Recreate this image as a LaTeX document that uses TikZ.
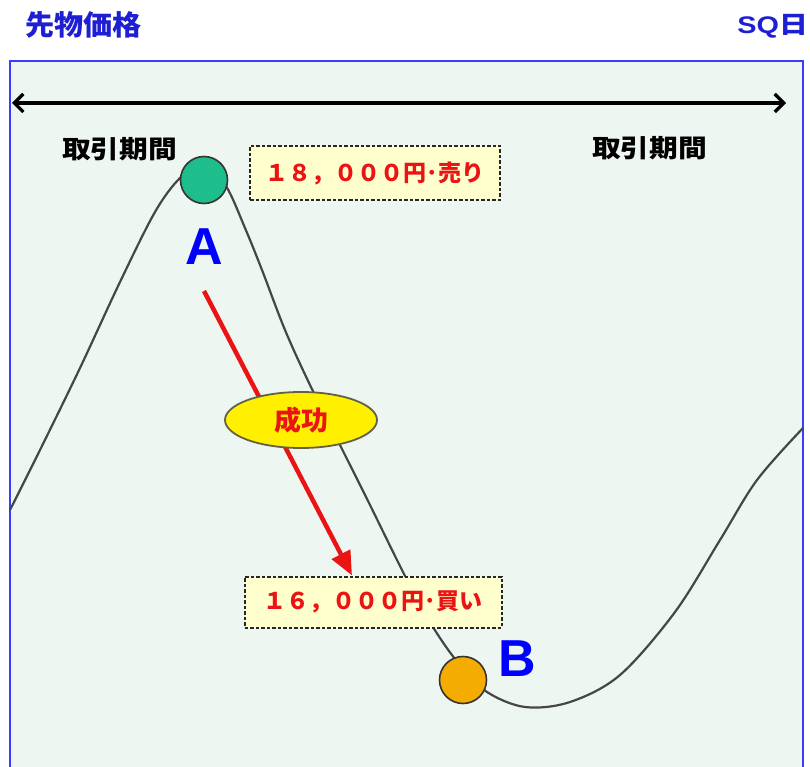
\documentclass[tikz,border=0pt]{standalone}
\usepackage{fontspec}
\usepackage{graphicx}
\usetikzlibrary{arrows.meta,shapes.geometric}
\newfontfamily\jpfont{Noto Sans CJK JP}
\newfontfamily\latfont{Liberation Sans}
\definecolor{bgpanel}{RGB}{238,246,242}
\definecolor{panelblue}{RGB}{60,60,255}
\definecolor{titleblue}{RGB}{30,30,210}
\definecolor{markA}{RGB}{30,190,140}
\definecolor{markB}{RGB}{245,172,0}
\definecolor{ovalyellow}{RGB}{255,240,0}
\definecolor{labelfill}{RGB}{255,255,206}
\definecolor{curvegray}{RGB}{70,70,70}
\definecolor{txtred}{RGB}{235,20,20}
\tikzset{
  x=1pt, y=-1pt,
  titletext/.style={font=\jpfont\bfseries\fontsize{28}{28}\selectfont, text=titleblue, inner sep=0pt},
  periodtext/.style={font=\jpfont\bfseries\fontsize{25}{25}\selectfont, text=black, inner sep=0pt},
  pricebox/.style={draw=black!85, dash pattern=on 3.5pt off 2pt, line width=2pt, fill=labelfill, text=txtred,
     font=\jpfont\bfseries\fontsize{23}{23}\selectfont, inner sep=0pt},
  marker/.style={circle, draw=black!80, line width=1.6pt, minimum size=47pt, inner sep=0pt},
  bigletter/.style={font=\latfont\bfseries\fontsize{52}{52}\selectfont, text=blue, inner sep=0pt},
}
\begin{document}
\begin{tikzpicture}
\useasboundingbox (0,0) rectangle (810,767);
% panel
\fill[bgpanel] (10,61) rectangle (803,767);
\draw[panelblue, line width=2.2pt] (10,767) -- (10,61) -- (803,61) -- (803,767);
% titles
\node[titletext, anchor=west] (title) at (25,25) {\scalebox{1.04}[1]{先物価格}};
\node[text=titleblue, inner sep=0pt, anchor=east] (sq) at (808,26)
  {\scalebox{1.2}[1]{\latfont\bfseries\fontsize{24}{24}\selectfont SQ\jpfont 日}};
% double arrow
\coordinate (arrL) at (12,103);
\coordinate (arrR) at (786,103);
\draw[line width=3.2pt, {Straight Barb[length=9pt,width=18pt,line width=3.2pt]}-{Straight Barb[length=9pt,width=18pt,line width=3.2pt]}] (arrL) -- (arrR);
% period labels
\node[periodtext, anchor=west] (perL) at (62,149) {\scalebox{1.15}[1]{取引期間}};
\node[periodtext, anchor=west] (perR) at (592,148) {\scalebox{1.15}[1]{取引期間}};
% price curve
\draw[curvegray, line width=2.2pt] plot[smooth, tension=0.55] coordinates {
 (10,510) (40,450) (80,368) (120,282) (155,212) (180,178) (204,163) (226,186)
 (245,228) (262,270) (285,330) (310,385) (340,445) (370,505) (397,560) (420,605)
 (440,638) (460,665) (487,692) (525,707) (570,702) (620,675) (675,612) (720,540)
 (757,480) (803,428)};
% markers
\node[marker, fill=markA] (A) at (204,180) {};
\node[marker, fill=markB] (B) at (463,680) {};
\node[bigletter] (Alab) at (204,247) {A};
\node[bigletter] (Blab) at (517,659) {B};
% price boxes
\node[pricebox, minimum width=250pt, minimum height=54pt] (sell) at (375,173) {１８，０００円･売り};
\node[pricebox, minimum width=257pt, minimum height=51pt] (buy) at (373,602) {１６，０００円･買い};
% red arrow
\coordinate (arrStart) at (204,291);
\draw[txtred, line width=4.5pt, -{Triangle[length=24pt,width=20pt]}] (arrStart) -- (buy.north -| 352,0);
% success oval
\node[ellipse, draw=black!70!yellow, line width=1.8pt, fill=ovalyellow, minimum width=152pt, minimum height=56pt, inner sep=0pt,
      font=\jpfont\bfseries\fontsize{27}{27}\selectfont, text=txtred] (ok) at (301,420) {成功};
\end{tikzpicture}
\end{document}
